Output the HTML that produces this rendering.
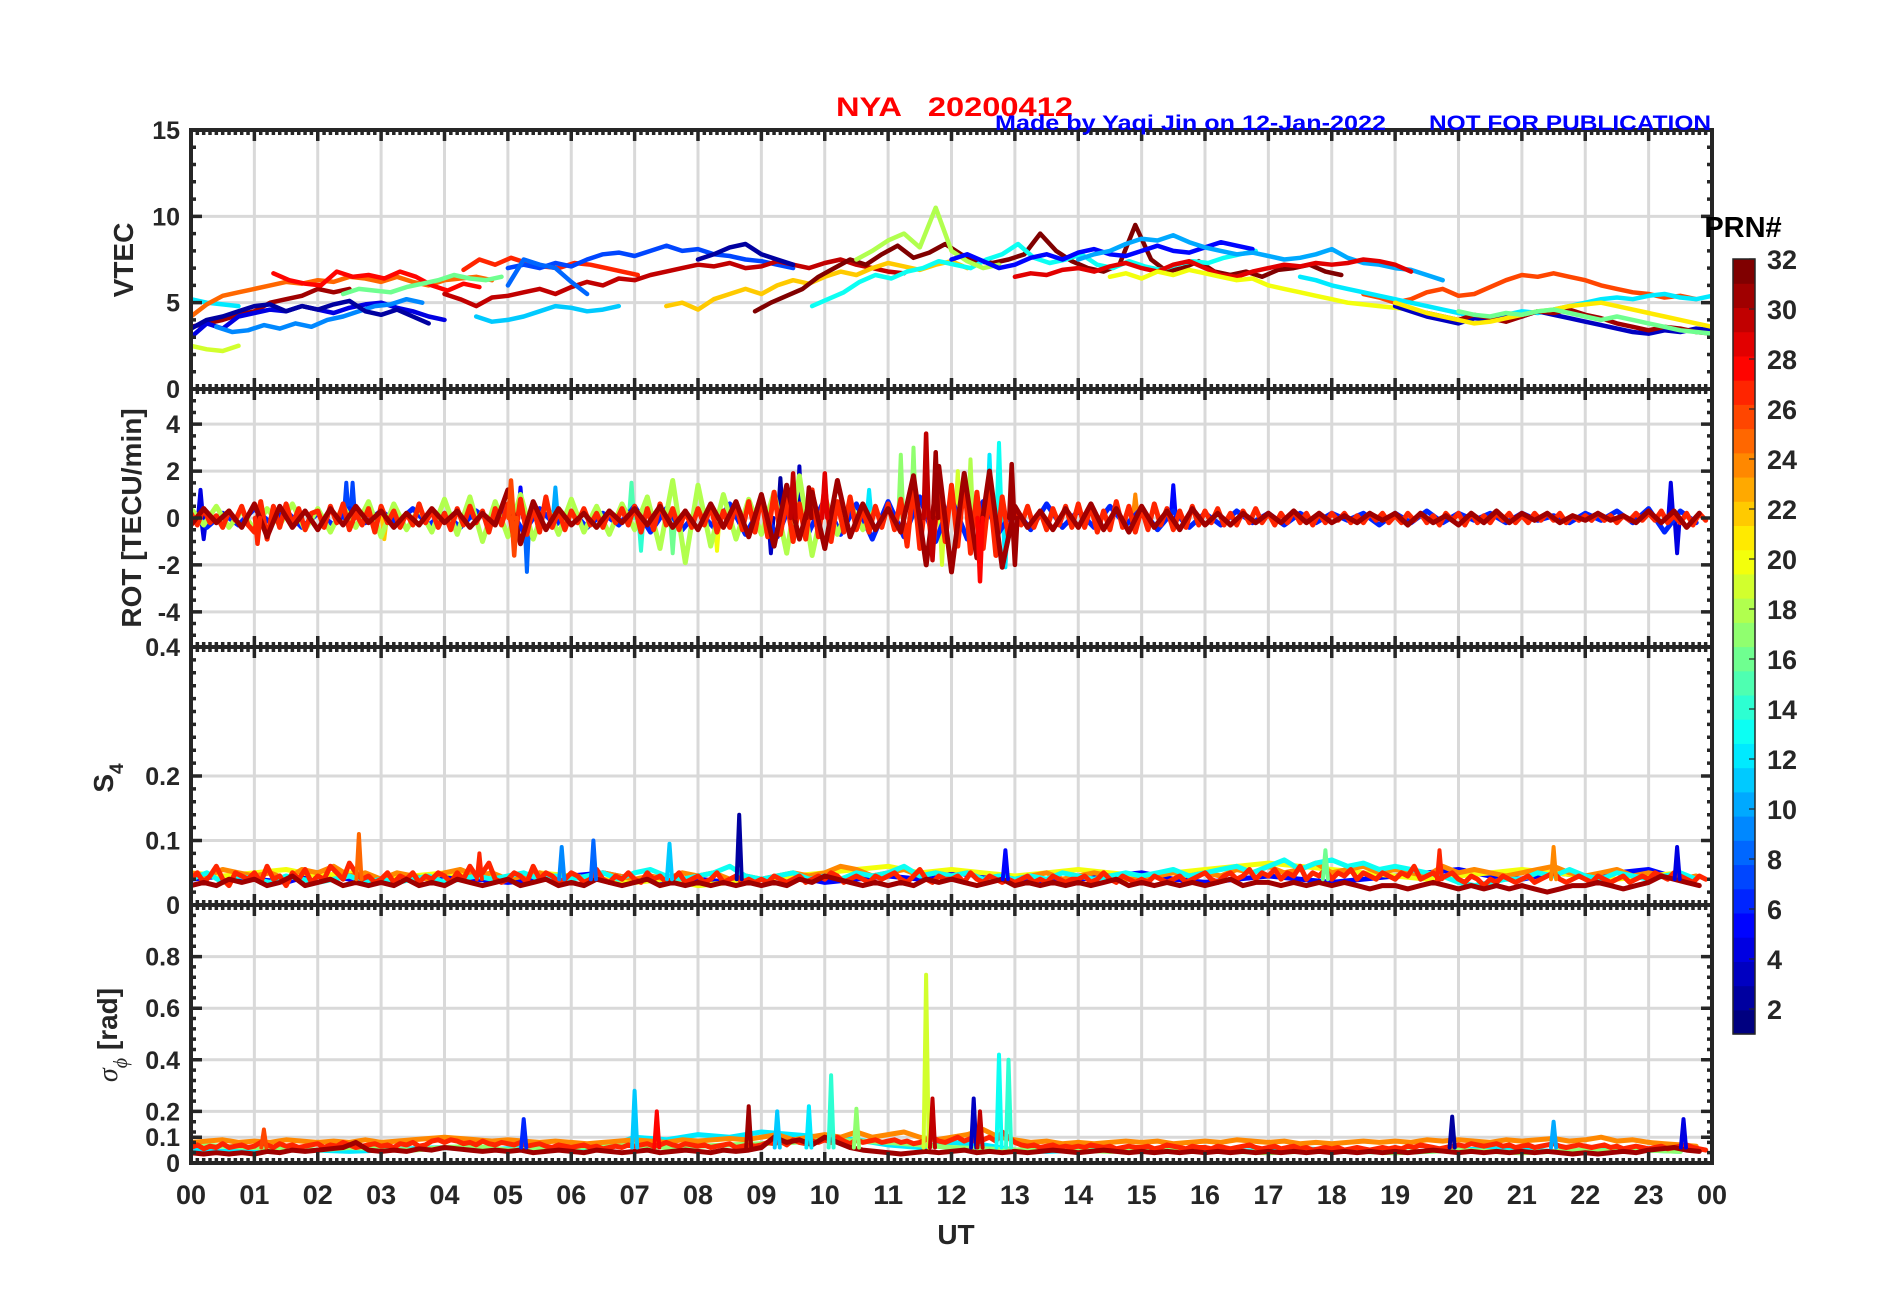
<!DOCTYPE html>
<html><head><meta charset="utf-8"><title>NYA 20200412</title>
<style>
html,body{margin:0;padding:0;background:#fff;}
svg{display:block;font-family:"Liberation Sans",Arial,sans-serif;}
</style></head>
<body>
<svg id="chart" width="1902" height="1292" viewBox="0 0 1902 1292" xmlns="http://www.w3.org/2000/svg">
<rect width="1902" height="1292" fill="#fff"/>
<g id="grid"></g><g id="series"></g><g id="axes"></g><g id="labels"></g><g id="cbar"></g>
<text x="836" y="116" fill="#ff0000" font-size="27" font-weight="bold" textLength="237" lengthAdjust="spacingAndGlyphs" xml:space="preserve">NYA   20200412</text>
<text x="995" y="130" fill="#0000ff" font-size="21" font-weight="bold" textLength="391" lengthAdjust="spacingAndGlyphs">Made by Yaqi Jin on 12-Jan-2022</text>
<text x="1429" y="130" fill="#0000ff" font-size="21" font-weight="bold" textLength="282" lengthAdjust="spacingAndGlyphs">NOT FOR PUBLICATION</text>
<text x="956" y="1244" text-anchor="middle" fill="#262626" font-size="28" font-weight="bold">UT</text>
<text transform="translate(133,260) rotate(-90)" text-anchor="middle" fill="#262626" font-size="28" font-weight="bold">VTEC</text>
<text transform="translate(141,518) rotate(-90)" text-anchor="middle" fill="#262626" font-size="28" font-weight="bold">ROT [TECU/min]</text>
<text transform="translate(113,778) rotate(-90)" text-anchor="middle" fill="#262626" font-size="28" font-weight="bold">S<tspan font-size="19" dy="10">4</tspan></text>
<text transform="translate(117,1035) rotate(-90)" text-anchor="middle" fill="#262626" font-size="28" font-weight="bold"><tspan font-family="Liberation Serif,serif" font-style="italic" font-weight="normal">σ</tspan><tspan font-family="Liberation Serif,serif" font-style="italic" font-weight="normal" font-size="20" dy="10">ϕ</tspan><tspan dy="-10"> [rad]</tspan></text>
<text x="1743" y="237" text-anchor="middle" fill="#000" font-size="29" font-weight="bold">PRN#</text>
</svg>
<script>
// ---------- data ----------
const hourTicks = ["00","01","02","03","04","05","06","07","08","09","10","11","12","13","14","15","16","17","18","19","20","21","22","23","00"];
const vtecTicks = [0,5,10,15];
const rotTicks = [-4,-2,0,2,4];
const s4Ticks = [0,0.1,0.2,0.4];
const s4TickLabels = ["0","0.1","0.2","0.4"];
const sigTicks = [0,0.1,0.2,0.4,0.6,0.8];
const prnTicks = [2,4,6,8,10,12,14,16,18,20,22,24,26,28,30,32];

const vtecPRN   = [12,19,31,25,28,4,9,2,16,27,11,7,30,22,2,32,13,18,5,10,29,20,26,12,3,31,21,16,8];
const vtecStart = [0,0,0,0,1.3,0,0.4,0,2.4,4.3,4.5,5.0,4.0,7.5,8.0,8.9,9.8,10.5,12.0,14.0,13.0,14.5,18.5,17.5,19.0,19.5,19.0,20.0,5.0];
const vtecVals = [
[5.2,5.0,4.9,4.8],
[2.5,2.3,2.2,2.5],
[3.6,3.8,4.0,4.3,4.5,5.0,5.2,5.4,5.8,5.6,5.8],
[4.2,4.9,5.4,5.6,5.8,6.0,6.2,6.1,6.3,6.2,6.5,6.4,6.2,6.5,6.2,6.0,6.3,6.4,6.5,6.3],
[6.7,6.3,6.1,6.0,6.8,6.5,6.6,6.4,6.8,6.5,6.0,5.7,6.1,5.9],
[3.0,3.8,3.5,4.2,4.4,4.6,4.5,4.8,4.6,4.4,4.7,4.9,5.0,4.7,4.5,4.2,4.0],
[3.6,3.3,3.4,3.7,3.5,3.8,3.6,4.0,4.2,4.5,4.8,4.9,5.2,5.0],
[3.5,4.0,4.2,4.5,4.8,4.9,4.5,4.8,4.6,4.9,5.1,4.5,4.3,4.6,4.2,3.8],
[5.5,5.8,5.7,5.6,5.9,6.1,6.3,6.6,6.4,6.3,6.5],
[6.9,7.5,7.2,7.6,7.3,7.1,7.0,7.3,7.2,7.0,6.8,6.6],
[4.2,3.9,4.0,4.2,4.5,4.8,4.7,4.5,4.6,4.8],
[7.0,7.2,7.0,7.3,7.1,7.5,7.8,7.9,7.7,8.0,8.3,8.0,8.1,7.8,7.7,7.5,7.4,7.2,7.0],
[5.5,5.2,4.8,5.3,5.4,5.6,5.8,5.5,5.9,6.2,6.0,6.4,6.3,6.6,6.8,7.0,7.2,7.1,7.3,7.0,7.1,7.4,7.2,7.0,7.3,7.5,7.2,7.0,6.8,6.7],
[4.8,5.0,4.6,5.2,5.5,5.8,5.5,6.0,6.3,6.1,6.5,6.8,6.6,7.0,7.3,7.1,6.9,7.2,7.4,7.0],
[7.5,7.8,8.2,8.4,7.8,7.5,7.2],
[4.5,5.0,5.4,5.8,6.5,7.0,7.5,7.2,7.8,8.3,7.6,7.9,8.4,7.8,7.4,7.3,7.5,7.8,9.0,8.0,7.4,7.0,6.8,7.2,9.5,7.5,6.8,7.0,7.4,6.8,6.6,6.8,6.5,6.9,7.0,7.2,6.8,6.6],
[4.8,5.2,5.6,6.2,6.6,6.4,6.8,7.0,7.4,7.2,7.0,7.5,7.8,8.4,7.6,7.3,7.5,7.8,7.2,7.0,7.4,7.1,6.9,7.2,7.4,7.3,7.6,7.8,8.0],
[7.5,8.0,8.6,9.0,8.2,10.5,8.0,7.4,7.0,7.2],
[7.5,7.8,7.4,7.0,7.2,7.6,7.8,7.5,7.9,8.1,7.8,7.7,8.0,8.3,8.0,7.9,8.2,8.5,8.3,8.1],
[7.5,7.8,8.0,8.4,8.7,8.6,8.9,8.5,8.2,8.0,7.8,7.9,7.7,7.5,7.6,7.8,8.1,7.6,7.3,7.2,7.0,6.9,6.6,6.3],
[6.5,6.7,6.6,6.9,7.0,6.8,7.1,7.3,7.0,6.8,7.2,7.4,7.0,6.6,6.5,6.8,7.0,7.2,7.1,7.3,7.2,7.3,7.5,7.4,7.2,6.8],
[6.5,6.7,6.4,6.8,6.6,6.9,6.7,6.5,6.3,6.4,6.0,5.8,5.6,5.4,5.2,5.0,4.9,4.8,4.7,4.6],
[5.5,5.3,5.0,5.2,5.6,5.8,5.4,5.5,5.9,6.3,6.6,6.5,6.7,6.5,6.3,6.0,5.8,5.6,5.5,5.3,5.4,5.2],
[6.5,6.3,6.0,5.8,5.6,5.4,5.2,5.0,4.8,4.6,4.4,4.2,4.1,4.3,4.5,4.4,4.6,4.8,5.0,5.2,5.3,5.2,5.4,5.5,5.3,5.2,5.4],
[4.8,4.5,4.2,4.0,3.8,4.1,4.0,4.3,4.2,4.5,4.3,4.1,3.9,3.7,3.5,3.3,3.2,3.4,3.3,3.5,3.4],
[4.4,4.2,4.0,4.3,4.1,3.9,4.2,4.5,4.4,4.6,4.3,4.1,3.8,3.6,3.4,3.6,3.5,3.3,3.2],
[5.0,4.7,4.4,4.2,4.0,3.8,3.9,4.1,4.3,4.5,4.6,4.8,4.9,5.0,4.8,4.6,4.4,4.2,4.0,3.8,3.6],
[4.5,4.3,4.2,4.4,4.3,4.5,4.6,4.4,4.2,4.0,4.2,4.0,3.8,3.6,3.4,3.3,3.2],
[6.0,7.5,7.2,7.0,6.2,5.5]
];
const vtecStep = 0.25;

// ROT band series
const rotPRN  = [6,18,27,31];
const rotStep = [0.25,0.2,0.1,0.2];
const rotVals = [
[0.3,-0.4,0.2,-0.3,0.4,-0.2,0.3,-0.4,0.2,-0.3,0.4,-0.2,0.3,-0.2,0.4,-0.3,0.2,-0.4,0.3,-0.2,0.5,-0.6,0.4,-0.3,0.3,-0.4,0.2,-0.3,0.5,-0.6,0.4,-0.5,0.3,-0.4,0.6,-0.7,0.5,-0.8,0.9,-0.6,0.8,-0.7,0.6,-0.9,0.7,-0.8,0.9,-1.0,0.8,-0.9,0.7,-0.6,0.4,-0.5,0.6,-0.4,0.3,-0.4,0.5,-0.3,0.4,-0.5,0.3,-0.4,0.2,-0.3,0.3,-0.2,0.2,-0.3,0.2,-0.2,0.2,-0.1,0.2,-0.3,0.2,-0.2,0.3,-0.2,0.2,-0.1,0.2,-0.2,0.2,-0.1,0.1,-0.2,0.2,-0.1,0.3,-0.2,0.4,-0.6,0.3,-0.2],
[0.4,-0.3,0.5,-0.4,0.3,-0.5,0.4,-0.3,0.6,-0.5,0.4,-0.6,0.5,-0.4,0.7,-0.8,0.6,-0.5,0.4,-0.6,0.8,-0.7,0.9,-1.0,0.7,-0.8,1.0,-0.9,0.6,-0.7,0.8,-0.6,0.5,-0.7,0.6,-0.5,0.9,-1.3,1.6,-1.9,1.4,-1.2,1.0,-0.9,0.8,-0.7,1.1,-1.5,1.8,-1.6,0.9,-0.7,0.6,-0.5,0.4],
[0.2,-0.3,0.4,-0.2,0.1,-0.4,0.3,-0.1,0.5,-0.3,-0.6,0.7,-0.9,0.5,-0.4,0.6,-0.3,0.4,-0.5,0.2,0.3,-0.4,0.5,-0.2,0.6,-0.5,0.2,-0.3,0.4,-0.6,0.5,-0.2,0.3,-0.4,0.2,-0.3,0.6,-0.2,0.3,-0.4,0.2,-0.5,0.4,-0.3,0.5,-0.2,0.3,-0.6,0.4,-0.3,0.6,-1.0,0.8,-0.7,0.5,-0.6,0.9,-0.4,0.3,-0.5,0.3,-0.2,0.4,-0.3,0.2,-0.4,0.3,-0.2,0.4,-0.3,0.5,-0.6,0.4,-0.5,0.6,-0.3,0.4,-0.5,0.3,-0.4,0.4,-0.3,0.5,-0.6,0.3,-0.4,0.6,-0.5,0.7,-0.6,0.9,-0.8,1.1,-0.7,0.8,-1.0,0.6,-0.9,1.2,-0.8,1.3,-1.0,0.7,-0.6,0.9,-0.5,0.4,-0.6,0.5,-0.4,0.6,-0.5,0.8,-1.2,1.5,-1.3,1.0,-1.4,1.2,-1.0,1.4,-1.2,1.6,-1.5,1.1,-1.3,1.2,-1.6,0.9,-0.8,0.4,-0.3,0.5,-0.4,0.3,-0.5,0.4,-0.3,0.5,-0.4,0.6,-0.4,0.5,-0.6,0.3,-0.5,0.7,-0.4,0.5,-0.6,0.4,-0.5,0.6,-0.3,0.4,-0.5,0.3,-0.4,0.5,-0.3,0.3,-0.2,0.4,-0.3,0.2,-0.3,0.3,-0.2,0.4,-0.2,0.2,-0.3,0.2,-0.2,0.3,-0.2,0.2,-0.3,0.2,-0.2,0.2,-0.1,0.2,-0.2,0.1,-0.2,0.2,-0.1,0.2,-0.2,0.1,-0.2,0.2,-0.1,0.2,-0.2,0.1,-0.3,0.2,-0.1,0.2,-0.3,0.2,-0.2,0.1,-0.2,0.2,-0.1,0.2,-0.2,0.1,-0.2,0.2,-0.1,0.2,-0.1,0.2,-0.2,0.1,-0.1,0.1,-0.1,0.2,-0.1,0.1,-0.2,0.1,-0.1,0.2,-0.1,0.2,-0.1,0.3,-0.2,0.1,-0.2,0.2,-0.3,0.2,-0.1],
[-0.3,0.4,-0.2,0.3,-0.4,0.6,-0.8,0.5,-0.4,0.3,-0.5,0.4,-0.3,0.5,-0.2,0.3,-0.4,0.2,-0.3,0.4,-0.2,0.3,-0.4,0.2,-0.3,1.2,-1.1,0.7,-0.5,0.4,-0.3,0.2,-0.4,0.3,-0.2,0.4,-0.3,0.5,-0.4,0.3,-0.5,0.6,-0.4,0.7,-0.8,1.0,-1.2,1.4,-0.9,1.1,-1.3,1.6,-0.8,0.6,-0.5,0.4,-0.6,1.8,-2.0,2.2,-2.3,1.9,-1.7,2.0,-2.1,0.5,-0.4,0.3,-0.5,0.4,-0.4,0.6,-0.5,0.4,-0.6,0.5,-0.4,0.3,-0.5,0.4,-0.3,0.2,-0.3,0.2,-0.2,0.2,-0.2,0.3,-0.2,0.2,-0.2,0.1,-0.2,0.2,-0.1,0.2,-0.3,0.2,-0.2,0.1,-0.3,0.2,-0.2,0.3,-0.2,0.2,-0.1,0.2,-0.2,0.1,-0.1,0.2,-0.1,0.1,-0.2,0.3,-0.2,0.3,-0.4,0.2]
];
const rotSpikeHour = [0.15,0.2,1.05,2.45,2.55,3.05,4.4,5.05,5.1,5.2,5.3,5.75,6.95,7.1,7.6,8.3,9.15,9.3,9.5,9.6,9.75,10.0,10.7,11.2,11.4,11.6,11.7,11.75,11.85,12.1,12.3,12.45,12.6,12.75,12.85,12.95,13.0,14.9,15.5,23.35,23.45];
const rotSpikeVal  = [1.2,-0.9,-1.1,1.5,1.5,-0.9,0.7,1.6,-1.6,1.3,-2.3,1.3,1.5,-1.4,-1.5,-1.4,-1.5,1.7,1.9,2.2,1.3,1.9,1.2,2.7,3.0,3.6,-1.8,2.8,-2.0,2.0,2.5,-2.7,2.7,3.2,-2.1,2.3,-2.0,1.0,1.4,1.5,-1.5];
const rotSpikePRN  = [4,4,27,7,7,22,11,26,26,5,8,10,15,14,16,20,3,2,30,3,31,29,12,17,17,30,30,31,19,19,18,28,12,13,12,31,31,24,5,4,4];

// S4 series
const s4PRN  = [5,20,24,13,27,31];
const s4Step = [0.5,0.5,0.25,0.25,0.1,0.2];
const s4Vals = [
[.04,.045,.04,.035,.05,.04,.035,.04,.045,.04,.035,.04,.045,.05,.04,.035,.04,.035,.04,.045,.035,.04,.045,.04,.05,.045,.04,.035,.04,.045,.05,.04,.035,.04,.045,.04,.035,.04,.045,.05,.055,.045,.04,.05,.045,.05,.055,.04],
[.05,.045,.05,.055,.045,.05,.04,.045,.05,.045,.04,.05,.045,.04,.035,.04,.03,.035,.04,.045,.05,.055,.06,.05,.055,.05,.045,.05,.055,.05,.045,.05,.055,.06,.065,.06,.055,.05,.045,.04,.045,.05,.055,.05,.045,.04,.045,.05],
[.05,.045,.055,.05,.045,.05,.04,.055,.05,.06,.045,.05,.04,.05,.045,.04,.05,.055,.045,.05,.04,.045,.05,.04,.045,.04,.05,.045,.04,.045,.04,.05,.045,.05,.04,.045,.04,.045,.05,.045,.05,.06,.055,.045,.05,.055,.045,.05,.045,.05,.04,.045,.04,.045,.05,.04,.045,.05,.045,.04,.04,.045,.05,.045,.05,.045,.055,.05,.06,.05,.055,.065,.05,.055,.06,.05,.055,.05,.045,.06,.05,.055,.05,.045,.05,.055,.06,.05,.045,.05,.055,.045,.05,.045,.04,.045],
[.04,.05,.035,.045,.04,.035,.045,.04,.035,.04,.045,.035,.04,.035,.04,.045,.035,.04,.045,.04,.045,.05,.04,.045,.04,.045,.05,.04,.05,.055,.045,.04,.045,.05,.06,.045,.04,.045,.05,.04,.045,.04,.05,.045,.05,.06,.045,.05,.045,.05,.04,.045,.04,.045,.04,.05,.045,.04,.045,.05,.045,.05,.055,.045,.05,.055,.06,.05,.06,.07,.055,.065,.07,.06,.065,.055,.06,.055,.05,.045,.035,.03,.035,.04,.04,.05,.045,.055,.045,.04,.05,.045,.04,.045,.05,.04],
[.04,.05,.035,.045,.06,.04,.03,.05,.045,.04,.05,.035,.06,.04,.045,.03,.05,.04,.055,.035,.045,.04,.06,.05,.04,.065,.05,.04,.045,.035,.04,.05,.035,.045,.04,.05,.035,.045,.04,.05,.045,.035,.05,.04,.06,.045,.05,.065,.04,.035,.04,.05,.045,.035,.06,.04,.05,.045,.035,.04,.05,.045,.035,.04,.055,.04,.035,.045,.04,.05,.04,.035,.05,.04,.045,.035,.04,.05,.035,.04,.045,.035,.04,.05,.035,.04,.045,.035,.04,.035,.04,.035,.045,.04,.035,.04,.045,.035,.04,.045,.04,.05,.045,.035,.04,.045,.04,.035,.045,.04,.045,.05,.04,.035,.045,.055,.04,.035,.045,.04,.04,.045,.035,.05,.04,.035,.045,.04,.035,.04,.035,.04,.045,.035,.04,.035,.045,.04,.035,.04,.04,.045,.035,.04,.05,.04,.035,.045,.04,.035,.04,.035,.045,.04,.035,.04,.045,.035,.04,.045,.05,.04,.035,.045,.05,.04,.045,.055,.04,.05,.045,.055,.04,.05,.045,.06,.04,.05,.045,.055,.04,.05,.045,.055,.04,.05,.045,.04,.05,.045,.04,.05,.045,.06,.04,.045,.05,.04,.045,.05,.04,.035,.045,.04,.03,.04,.035,.045,.04,.035,.04,.045,.035,.04,.045,.05,.04,.035,.04,.045,.04,.035,.045,.04,.035,.04,.045,.035,.04,.045,.04,.05,.045,.04,.05,.045,.04,.035,.045,.04],
[.03,.035,.03,.04,.035,.04,.03,.035,.045,.03,.035,.04,.03,.035,.03,.035,.03,.04,.03,.035,.03,.04,.035,.03,.035,.04,.03,.035,.04,.03,.035,.03,.04,.035,.03,.035,.04,.03,.035,.03,.035,.03,.035,.03,.035,.03,.035,.03,.04,.035,.045,.04,.035,.03,.035,.03,.035,.03,.04,.035,.04,.035,.03,.035,.04,.03,.035,.03,.035,.03,.035,.03,.035,.04,.03,.035,.03,.035,.03,.035,.03,.035,.04,.03,.035,.035,.03,.035,.03,.035,.03,.035,.03,.025,.03,.03,.025,.03,.035,.03,.025,.03,.025,.03,.025,.03,.025,.02,.025,.03,.03,.035,.03,.025,.03,.035,.045,.04,.035,.03]
];
const s4SpikeHour = [2.65,4.55,5.85,6.35,7.55,8.65,12.85,17.9,19.7,21.5,23.45];
const s4SpikeVal  = [0.11,0.08,0.09,0.10,0.095,0.14,0.085,0.085,0.085,0.09,0.09];
const s4SpikePRN  = [25,27,9,8,11,2,5,16,27,24,4];

// sigma-phi series
const sigPRN  = [12,17,24,27,31];
const sigStep = [0.5,0.5,0.25,0.1,0.2];
const sigVals = [
[.05,.045,.05,.055,.05,.045,.05,.055,.06,.05,.055,.06,.05,.055,.1,.09,.11,.1,.12,.11,.1,.09,.07,.06,.08,.07,.05,.045,.05,.055,.05,.045,.05,.045,.05,.055,.05,.045,.04,.045,.05,.055,.05,.045,.05,.055,.05,.045],
[.07,.065,.06,.055,.05,.06,.055,.05,.06,.065,.05,.055,.06,.065,.07,.06,.065,.07,.075,.08,.09,.085,.08,.07,.06,.055,.05,.055,.05,.045,.05,.055,.05,.045,.04,.045,.05,.045,.04,.045,.05,.045,.04,.045,.05,.045,.05,.045],
[.08,.085,.09,.08,.085,.08,.09,.085,.08,.085,.08,.09,.08,.085,.09,.095,.1,.095,.09,.085,.09,.085,.08,.085,.08,.075,.08,.085,.09,.085,.08,.09,.085,.09,.095,.09,.1,.11,.09,.1,.11,.1,.12,.1,.11,.12,.1,.09,.1,.11,.13,.1,.09,.08,.085,.075,.08,.075,.08,.085,.08,.085,.075,.08,.085,.08,.09,.085,.08,.085,.075,.08,.075,.08,.085,.08,.085,.08,.09,.085,.09,.085,.08,.09,.085,.09,.095,.085,.09,.1,.085,.09,.08,.075,.07,.065],
[.06,.07,.055,.065,.06,.075,.06,.065,.07,.06,.065,.08,.07,.06,.075,.065,.07,.06,.065,.07,.075,.06,.07,.065,.08,.07,.06,.065,.07,.075,.065,.07,.06,.075,.07,.08,.065,.07,.085,.09,.08,.09,.085,.075,.08,.07,.085,.075,.07,.08,.075,.07,.08,.065,.07,.075,.065,.06,.07,.065,.06,.065,.07,.06,.065,.055,.06,.065,.06,.07,.065,.07,.075,.065,.07,.08,.07,.065,.075,.07,.065,.07,.06,.065,.07,.075,.06,.065,.07,.065,.07,.08,.075,.085,.07,.09,.08,.075,.085,.08,.09,.08,.1,.085,.075,.09,.08,.085,.09,.08,.085,.09,.08,.085,.075,.08,.09,.1,.085,.08,.09,.1,.085,.095,.08,.09,.1,.085,.12,.1,.08,.07,.065,.07,.06,.065,.07,.06,.065,.06,.065,.06,.07,.065,.06,.065,.055,.06,.065,.06,.06,.065,.055,.06,.07,.065,.06,.055,.065,.06,.06,.055,.065,.06,.055,.06,.065,.07,.06,.055,.06,.065,.055,.06,.065,.055,.06,.05,.055,.06,.055,.06,.05,.055,.06,.055,.05,.055,.06,.055,.06,.055,.065,.06,.07,.065,.06,.055,.06,.065,.07,.065,.075,.07,.065,.07,.075,.065,.07,.06,.065,.07,.06,.065,.07,.075,.065,.06,.065,.07,.065,.06,.065,.07,.06,.065,.055,.06,.065,.06,.055,.06,.065,.055,.06,.065,.07,.06,.055,.05],
[.04,.035,.04,.035,.04,.035,.045,.04,.05,.045,.05,.055,.06,.08,.05,.045,.05,.045,.055,.05,.06,.055,.05,.045,.05,.045,.05,.04,.045,.05,.045,.04,.05,.045,.04,.045,.05,.04,.045,.05,.045,.04,.05,.045,.05,.06,.1,.08,.09,.07,.1,.08,.06,.05,.045,.04,.035,.04,.045,.04,.045,.05,.04,.045,.04,.045,.04,.045,.05,.045,.04,.045,.05,.045,.04,.045,.04,.045,.04,.045,.04,.045,.04,.045,.04,.045,.04,.045,.04,.045,.04,.045,.04,.045,.04,.045,.04,.045,.05,.045,.04,.045,.04,.045,.04,.045,.04,.045,.04,.035,.04,.035,.04,.045,.04,.05,.055,.06,.05,.045]
];
const sigSpikeHour = [1.15,5.25,7.0,7.35,8.8,9.25,9.75,10.1,10.5,11.6,11.7,12.35,12.45,12.75,12.9,19.9,21.5,23.55];
const sigSpikeVal  = [0.13,0.17,0.28,0.2,0.22,0.2,0.22,0.34,0.21,0.73,0.25,0.25,0.2,0.42,0.4,0.18,0.16,0.17];
const sigSpikePRN  = [26,6,11,28,31,11,12,14,17,19,30,3,30,13,14,2,10,4];

// ---------- layout / helpers ----------
const NS = "http://www.w3.org/2000/svg";
const X0 = 191, X1 = 1712;
const xs = h => X0 + h * (X1 - X0) / 24;
const panels = {
  vtec: {top:130, bottom:389, min:0, max:15},
  rot:  {top:389, bottom:647, min:-5.5, max:5.5},
  s4:   {top:647, bottom:905, min:0, max:0.4},
  sig:  {top:905, bottom:1163, min:0, max:1}
};
function ys(p, v){ return p.bottom - (v - p.min) / (p.max - p.min) * (p.bottom - p.top); }
function jet(v){
  const t = (v - 1) / 31;
  const c = x => Math.round(255 * Math.max(0, Math.min(1, x)));
  return `rgb(${c(1.5 - Math.abs(4*t - 3))},${c(1.5 - Math.abs(4*t - 2))},${c(1.5 - Math.abs(4*t - 1))})`;
}
function mk(tag, attrs, parent){
  const e = document.createElementNS(NS, tag);
  for (const k in attrs) e.setAttribute(k, attrs[k]);
  parent.appendChild(e);
  return e;
}
const gGrid = document.getElementById('grid');
const gSer = document.getElementById('series');
const gAx = document.getElementById('axes');
const gLab = document.getElementById('labels');
const gCb = document.getElementById('cbar');
const INK = "#262626";

function clipFor(name, p){
  let defs = document.getElementById('defs');
  if (!defs) { defs = mk('defs', {id:'defs'}, document.getElementById('chart')); }
  const cp = mk('clipPath', {id:'clip-' + name}, defs);
  mk('rect', {x:X0, y:p.top, width:X1-X0, height:p.bottom-p.top}, cp);
}

function drawPanel(name, p, ticks, tickLabels, minorStep){
  for (let h = 1; h < 24; h++){
    const l = mk('line', {x1:xs(h), x2:xs(h), y1:p.top, y2:p.bottom, stroke:'#d9d9d9', 'stroke-width':3}, gGrid);
    
    
  }
  ticks.forEach(v => {
    if (v <= p.min || v >= p.max) return;
    const l = mk('line', {x1:X0, x2:X1, y1:ys(p,v), y2:ys(p,v), stroke:'#d9d9d9', 'stroke-width':3}, gGrid);
    
    
  });
  const fr = mk('rect', {x:X0, y:p.top, width:X1-X0, height:p.bottom-p.top, fill:'none', stroke:INK, 'stroke-width':4}, gAx);
  
  
  let d = '';
  for (let i = 0; i <= 240; i++){
    const x = xs(i/10), len = (i % 10 === 0) ? 11 : 5;
    d += `M${x},${p.top}v${len}M${x},${p.bottom}v${-len}`;
  }
  for (let v = p.min; v <= p.max + 1e-9; v += minorStep){
    const y = ys(p, v);
    d += `M${X0},${y}h5M${X1},${y}h-5`;
  }
  ticks.forEach(v => { const y = ys(p, v); d += `M${X0},${y}h11M${X1},${y}h-11`; });
  const tk = mk('path', {d:d, stroke:INK, 'stroke-width':3.5, fill:'none'}, gAx);
  
  
  ticks.forEach((v, i) => {
    const t = mk('text', {x:180, y:ys(p, v) + 9, 'text-anchor':'end', fill:INK, 'font-size':25, 'font-weight':'bold'}, gLab);
    t.textContent = tickLabels[i];
    
    
  });
  clipFor(name, p);
}

function drawLine(name, p, prn, start, step, vals, width){
  const pts = vals.map((v, i) => `${xs(start + i*step).toFixed(1)},${ys(p, v).toFixed(1)}`).join(' ');
  const pl = mk('polyline', {points:pts, fill:'none', stroke:jet(prn), 'stroke-width':width, 'stroke-linejoin':'round', 'stroke-linecap':'round', 'clip-path':`url(#clip-${name})`}, gSer);
  
  
}
function drawSpike(name, p, prn, h, v, base, width){
  const pts = `${xs(h-0.04).toFixed(1)},${ys(p,base).toFixed(1)} ${xs(h).toFixed(1)},${ys(p,v).toFixed(1)} ${xs(h+0.04).toFixed(1)},${ys(p,base).toFixed(1)}`;
  const pl = mk('polyline', {points:pts, fill:'none', stroke:jet(prn), 'stroke-width':width, 'stroke-linejoin':'round', 'stroke-linecap':'round', 'clip-path':`url(#clip-${name})`}, gSer);
  
  
}

drawPanel('vtec', panels.vtec, vtecTicks, vtecTicks.map(String), 1);
drawPanel('rot', panels.rot, rotTicks, rotTicks.map(String), 0.5);
drawPanel('s4', panels.s4, s4Ticks, s4TickLabels, 0.02);
drawPanel('sig', panels.sig, sigTicks, sigTicks.map(String), 0.04);

vtecVals.forEach((vals, i) => drawLine('vtec', panels.vtec, vtecPRN[i], vtecStart[i], vtecStep, vals, 4.5));
rotSpikeHour.forEach((h, i) => { if (rotSpikePRN[i] < 26) drawSpike('rot', panels.rot, rotSpikePRN[i], h, rotSpikeVal[i], 0, 4); });
rotVals.forEach((vals, i) => drawLine('rot', panels.rot, rotPRN[i], 0, rotStep[i], vals, 5));
rotSpikeHour.forEach((h, i) => { if (rotSpikePRN[i] >= 26) drawSpike('rot', panels.rot, rotSpikePRN[i], h, rotSpikeVal[i], 0, 4.5); });
s4Vals.forEach((vals, i) => drawLine('s4', panels.s4, s4PRN[i], 0, s4Step[i], vals, 5));
s4SpikeHour.forEach((h, i) => drawSpike('s4', panels.s4, s4SpikePRN[i], h, s4SpikeVal[i], 0.04, 4));
sigVals.forEach((vals, i) => drawLine('sig', panels.sig, sigPRN[i], 0, sigStep[i], vals, 5));
sigSpikeHour.forEach((h, i) => drawSpike('sig', panels.sig, sigSpikePRN[i], h, sigSpikeVal[i], 0.06, 4));

hourTicks.forEach((lab, i) => {
  const t = mk('text', {x:xs(i), y:1204, 'text-anchor':'middle', fill:INK, 'font-size':27, 'font-weight':'bold', textLength:30, lengthAdjust:'spacingAndGlyphs'}, gLab);
  t.textContent = lab;
  
  
});

const CB = {x:1733, w:22, top:259, bottom:1034};
const segH = (CB.bottom - CB.top) / 32;
for (let k = 0; k < 32; k++){
  const r = mk('rect', {x:CB.x, y:CB.bottom - (k+1)*segH, width:CB.w, height:segH + 0.6, fill:jet(1 + k)}, gCb);
  
  
}
const cbf = mk('rect', {x:CB.x, y:CB.top, width:CB.w, height:CB.bottom-CB.top, fill:'none', stroke:INK, 'stroke-width':1.5}, gCb);


prnTicks.forEach(v => {
  const y = CB.bottom - (v - 1) / 31 * (CB.bottom - CB.top);
  const l = mk('line', {x1:CB.x + CB.w - 6, x2:CB.x + CB.w, y1:y, y2:y, stroke:INK, 'stroke-width':1.2}, gCb);
  
  
  const t = mk('text', {x:1767, y:y + 10, fill:INK, 'font-size':27, 'font-weight':'bold'}, gCb);
  t.textContent = String(v);
  
  
});
</script>
</body></html>
